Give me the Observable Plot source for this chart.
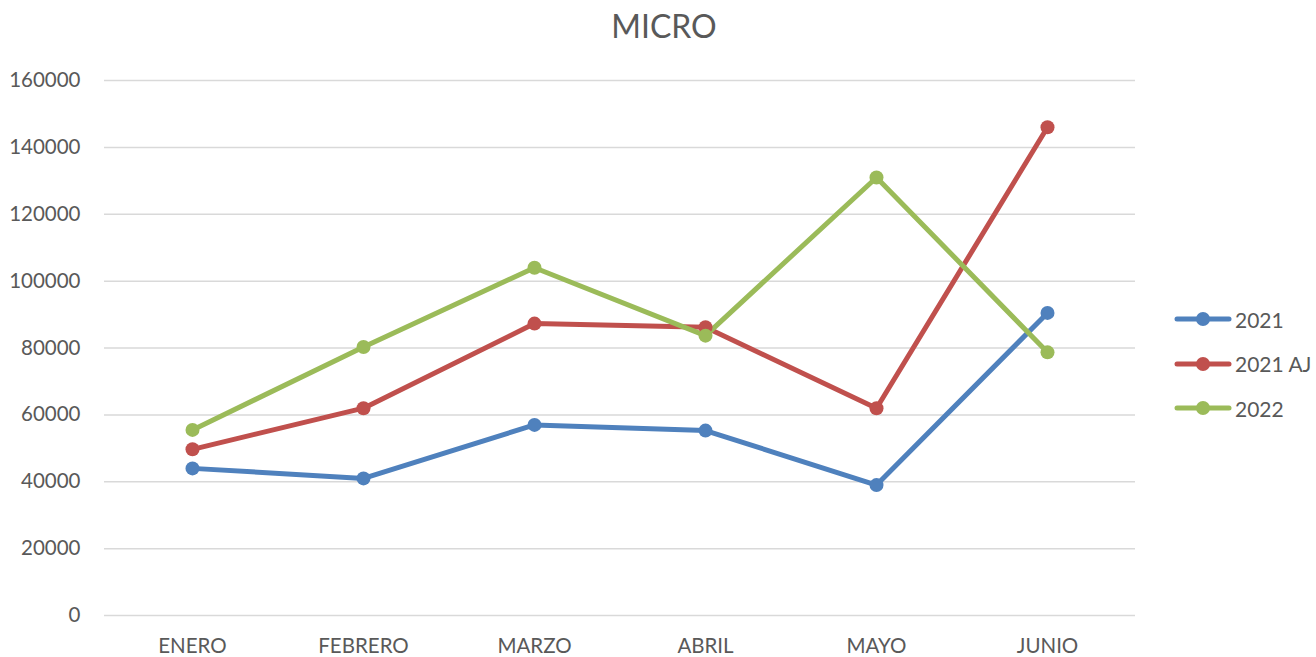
<!DOCTYPE html>
<html>
<head>
<meta charset="utf-8">
<script src="https://cdn.jsdelivr.net/npm/d3@7"></script>
<script src="https://cdn.jsdelivr.net/npm/@observablehq/plot@0.6"></script>
<style>
  html, body { margin: 0; padding: 0; background: #fff; }
  #wrap { position: relative; width: 1316px; height: 657px; font-family: Lato, "Open Sans", sans-serif; color: #595959; }
  #title { position: absolute; left: 0; top: 6px; width: 1328px; text-align: center; font-size: 32px; }
  #chart { position: absolute; left: 0; top: 50px; }
  #legend { position: absolute; left: 1174px; top: 297px; }
  .item { display: flex; align-items: center; height: 44.5px; font-size: 21px; }
  .item svg { margin-right: 3px; }
</style>
</head>
<body>
<div id="wrap">
  <div id="title">MICRO</div>
  <div id="chart"></div>
  <div id="legend"></div>
</div>
<script>
const months = ["ENERO", "FEBRERO", "MARZO", "ABRIL", "MAYO", "JUNIO"];
const seriesNames = ["2021", "2021 AJ", "2022"];
const colors = ["#4f81bd", "#c0504d", "#9bbb59"];
const v2021 = [44000, 41000, 57000, 55300, 39000, 90500];
const v2021AJ = [49700, 62000, 87300, 86200, 62000, 146000];
const v2022 = [55500, 80300, 104000, 83700, 131000, 78700];
const yTicks = [0, 20000, 40000, 60000, 80000, 100000, 120000, 140000, 160000];

const allValues = [v2021, v2021AJ, v2022];
const data = [];
seriesNames.forEach((s, i) => months.forEach((m, j) => data.push({series: s, month: m, value: allValues[i][j]})));

const plot = Plot.plot({
  width: 1160,
  height: 607,
  marginTop: 30,
  marginBottom: 42,
  marginLeft: 104,
  marginRight: 25,
  style: {fontFamily: "Lato, 'Open Sans', sans-serif", fontSize: "20.5px", color: "#595959", background: "#fff"},
  x: {type: "point", domain: months, padding: 0.5, label: null, tickSize: 0, tickPadding: 23},
  y: {domain: [0, 160000], ticks: yTicks, tickFormat: d => String(d), label: null, tickSize: 0, tickPadding: 24},
  color: {domain: seriesNames, range: colors},
  marks: [
    Plot.gridY(yTicks, {stroke: "#d9d9d9", strokeOpacity: 1, strokeWidth: 1.5}),
    Plot.line(data, {x: "month", y: "value", stroke: "series", strokeWidth: 5, strokeLinejoin: "round", strokeLinecap: "round"}),
    Plot.dot(data, {x: "month", y: "value", fill: "series", r: 7})
  ]
});
document.getElementById("chart").appendChild(plot);

const legend = document.getElementById("legend");
seriesNames.forEach((s, i) => {
  const div = document.createElement("div");
  div.className = "item";
  div.innerHTML = `<svg width="58" height="16"><line x1="3" x2="55" y1="8" y2="8" stroke="${colors[i]}" stroke-width="5" stroke-linecap="round"/><circle cx="29" cy="8" r="7" fill="${colors[i]}"/></svg><span>${s}</span>`;
  legend.appendChild(div);
});
</script>
</body>
</html>
